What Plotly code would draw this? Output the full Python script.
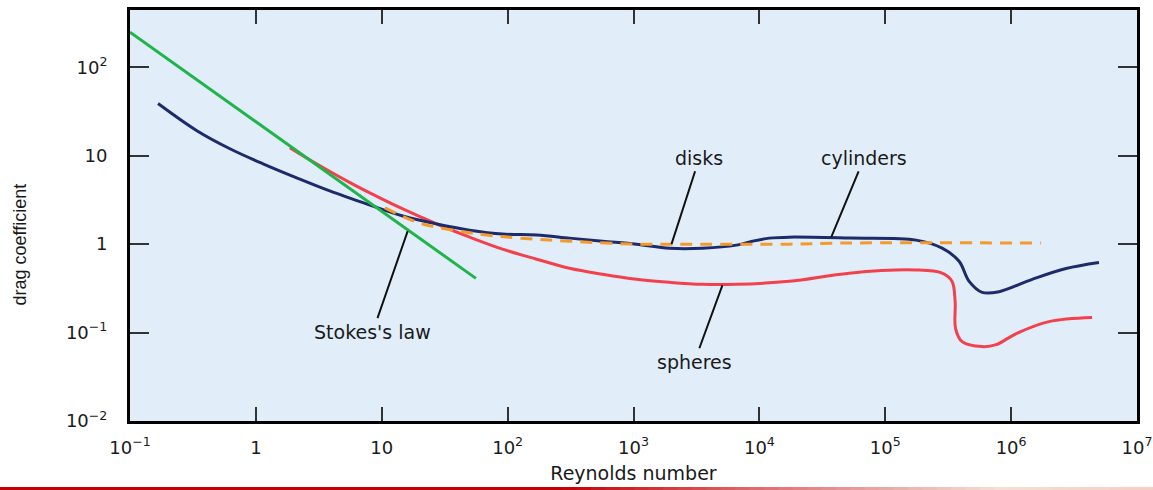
import numpy as np
import plotly.graph_objects as go

# ---------------- data ----------------
stokes_re = [0.1, 56]
stokes_cd = [250, 0.41]

cyl_re = [0.167, 0.34, 0.622, 1.14, 2.11, 3.86, 8.04, 14.7, 27.4, 49.9, 91.2, 170,
          310, 568, 1057, 1932, 3530, 6570, 8790, 12000, 17300, 51800, 176000,
          283000, 386000, 464000, 589000, 803000, 1.47e6, 2.73e6, 4.99e6]
cyl_cd = [39, 19.2, 12.0, 8.1, 5.62, 4.0, 2.77, 2.08, 1.69, 1.44, 1.30, 1.27,
          1.17, 1.08, 1.0, 0.90, 0.90, 0.975, 1.08, 1.17, 1.2, 1.17, 1.11,
          0.90, 0.64, 0.38, 0.285, 0.29, 0.40, 0.53, 0.62]

sph_re = [1.86, 2.36, 5.27, 8.04, 14.7, 27.4, 49.9, 91.2, 170, 310, 568, 1057,
          1932, 3530, 6570, 17300, 51800, 176000, 283000, 339000, 359000, 362000,
          408000, 589000, 760000, 1.1e6, 2.0e6, 4.4e6]
sph_cd = [12.3, 10.0, 5.20, 3.80, 2.50, 1.69, 1.20, 0.877, 0.676, 0.533, 0.456, 0.40,
          0.37, 0.351, 0.351, 0.38, 0.47, 0.51, 0.47, 0.38, 0.225, 0.111,
          0.079, 0.0694, 0.073, 0.0975, 0.133, 0.148]

disk_re = [10.6, 20.0, 36.6, 68.1, 124, 310, 1057, 3530, 17300, 51800, 1.73e6]
disk_cd = [2.57, 1.73, 1.44, 1.27, 1.17, 1.08, 1.0, 1.0, 1.0, 1.03, 1.03]

x_tickvals = [0.1, 1, 10, 100, 1e3, 1e4, 1e5, 1e6, 1e7]
x_ticktext = ["10<sup>−1</sup>", "1", "10", "10<sup>2</sup>", "10<sup>3</sup>",
              "10<sup>4</sup>", "10<sup>5</sup>", "10<sup>6</sup>", "10<sup>7</sup>"]
y_tickvals = [0.01, 0.1, 1, 10, 100]
y_ticktext = ["10<sup>−2</sup>", "10<sup>−1</sup>", "1", "10", "10<sup>2</sup>"]

labels = ["disks", "cylinders", "Stokes's law", "spheres"]

# ---------------- figure ----------------
fig = go.Figure()
fig.add_trace(go.Scatter(x=sph_re, y=sph_cd, mode="lines",
                         line=dict(color="#f2414c", width=3, shape="spline", smoothing=1.0),
                         hoverinfo="skip"))
fig.add_trace(go.Scatter(x=cyl_re, y=cyl_cd, mode="lines",
                         line=dict(color="#1d2b6b", width=3, shape="spline", smoothing=1.0),
                         hoverinfo="skip"))
fig.add_trace(go.Scatter(x=disk_re, y=disk_cd, mode="lines",
                         line=dict(color="#f39a2b", width=3, shape="spline", smoothing=1.0,
                                   dash="12px,8px"),
                         hoverinfo="skip"))
fig.add_trace(go.Scatter(x=stokes_re, y=stokes_cd, mode="lines",
                         line=dict(color="#20b44b", width=3),
                         hoverinfo="skip"))

font_txt = "DejaVu Sans, Verdana, sans-serif"

# label annotations with leader lines (log10 coordinates)
ann_pos = {
    "disks": ((3.524, 0.977), (3.302, 0.0)),
    "cylinders": ((4.833, 0.977), (4.571, 0.08)),
    "Stokes's law": ((0.929, -0.989), (1.206, 0.148)),
    "spheres": ((3.484, -1.33), (3.706, -0.466)),
}
annotations = []
for lab in labels:
    (tx, ty), (hx, hy) = ann_pos[lab]
    annotations.append(dict(
        text=lab, x=hx, y=hy, ax=tx, ay=ty, xref="x", yref="y", axref="x", ayref="y",
        showarrow=True, arrowhead=0, arrowwidth=2, arrowcolor="#111111",
        font=dict(family=font_txt, size=19, color="#1a1a1a"), borderpad=2,
    ))

annotations.append(dict(
    text="drag coefficient", textangle=-90, x=-0.109, y=0.43, xref="paper", yref="paper",
    showarrow=False, xanchor="center", yanchor="middle",
    font=dict(family="Liberation Sans, Arial, sans-serif", size=18, color="#1a1a1a"),
))

# gradient bar at the bottom of the page
shapes = []
nseg = 80
left_px, right_px = 0, 1153
def bar_color(px):
    stops = [(0, (195, 0, 0)), (560, (195, 0, 0)), (760, (222, 110, 110)),
             (1000, (246, 222, 212)), (1153, (247, 205, 195))]
    for (p0, c0), (p1, c1) in zip(stops[:-1], stops[1:]):
        if p0 <= px <= p1:
            t = (px - p0) / (p1 - p0) if p1 > p0 else 0
            c = [round(a + (b - a) * t) for a, b in zip(c0, c1)]
            return "rgb(%d,%d,%d)" % tuple(c)
    return "rgb(247,205,195)"

for i in range(nseg):
    p0 = left_px + (right_px - left_px) * i / nseg
    p1 = left_px + (right_px - left_px) * (i + 1) / nseg + 1
    shapes.append(dict(type="rect", xref="paper", yref="paper",
                       xsizemode="pixel", ysizemode="pixel", xanchor=0, yanchor=0,
                       x0=p0 - 130, x1=p1 - 130, y0=-66, y1=-69,
                       line=dict(width=0), fillcolor=bar_color((p0 + p1) / 2), layer="above"))

tick_font = dict(family=font_txt, size=18, color="#1a1a1a")

fig.update_layout(
    width=1153, height=490,
    margin=dict(l=130, r=16, t=10, b=69, autoexpand=False),
    paper_bgcolor="white", plot_bgcolor="#e1eefa",
    showlegend=False,
    annotations=annotations,
    shapes=shapes,
    xaxis=dict(type="log", range=[-1, 7], tickvals=x_tickvals, ticktext=x_ticktext,
               ticks="inside", ticklen=14, tickwidth=2, tickcolor="#333333",
               showline=True, linewidth=3, linecolor="black", mirror="allticks",
               showgrid=False, zeroline=False, tickfont=tick_font,
               ticklabelstandoff=8,
               title=dict(text="Reynolds number",
                          font=dict(family=font_txt, size=19, color="#1a1a1a"),
                          standoff=11)),
    yaxis=dict(type="log", range=[-2, 2.648], tickvals=y_tickvals, ticktext=y_ticktext,
               ticks="inside", ticklen=19, tickwidth=2, tickcolor="#333333",
               showline=True, linewidth=3, linecolor="black", mirror="allticks",
               showgrid=False, zeroline=False, tickfont=tick_font,
               ticklabelstandoff=16),
)

fig.write_html("out.html")
